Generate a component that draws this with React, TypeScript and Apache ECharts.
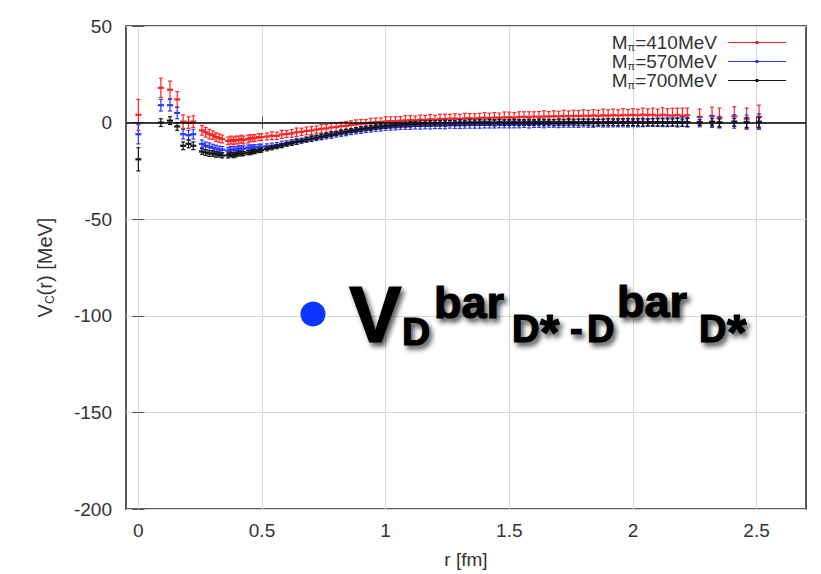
import React, { useEffect, useRef } from "react";
import * as echarts from "echarts";

// Separation r [fm] of the sampled points
const R = [
  0, 0.091, 0.128, 0.157, 0.181, 0.203, 0.222, 0.257, 0.272, 0.287,
  0.301, 0.314, 0.327, 0.339, 0.363, 0.374, 0.385, 0.395, 0.406, 0.416,
  0.425, 0.444, 0.454, 0.463, 0.471, 0.488, 0.497,
  0.52, 0.54, 0.56, 0.58, 0.6, 0.62, 0.64, 0.66, 0.68, 0.7,
  0.72, 0.74, 0.76, 0.78, 0.8, 0.82, 0.84, 0.86, 0.88, 0.9,
  0.92, 0.94, 0.96, 0.98, 1.0, 1.02, 1.04, 1.06, 1.08, 1.1,
  1.12, 1.14, 1.16, 1.18, 1.2, 1.22, 1.24, 1.26, 1.28, 1.3,
  1.32, 1.34, 1.36, 1.38, 1.4, 1.42, 1.44, 1.46, 1.48, 1.5,
  1.52, 1.54, 1.56, 1.58, 1.6, 1.62, 1.64, 1.66, 1.68, 1.7,
  1.72, 1.74, 1.76, 1.78, 1.8, 1.82, 1.84, 1.86, 1.88, 1.9,
  1.92, 1.94, 1.96, 1.98, 2.0, 2.02, 2.04, 2.06, 2.08, 2.1,
  2.12, 2.14, 2.16, 2.18, 2.2, 2.22,
  2.27, 2.32, 2.35, 2.41, 2.46, 2.51,
];

// Mπ = 410 MeV
const V410 = [
  4, 18, 17, 12, 0.5, 0, 0.5, -4, -5, -6,
  -6.5, -7.5, -8, -8.5, -9.5, -9, -9.5, -9, -9, -8.5,
  -9, -8.5, -8, -8, -8, -7.5, -7.5,
  -7.2, -6.8, -6.9, -6.1, -5.9, -5.6, -5.0, -4.8, -4.3, -4.1,
  -3.6, -3.2, -3.0, -2.5, -2.3, -1.8, -1.7, -1.2, -1.0, -0.6,
  -0.4, -0.1, 0.2, 0.3, 0.6, 0.8, 0.7, 1.0, 1.1, 1.3,
  1.2, 1.5, 1.4, 1.7, 1.6, 1.9, 1.8, 2.0, 2.1, 1.9,
  2.2, 2.3, 2.1, 2.4, 2.5, 2.3, 2.6, 2.5, 2.7, 2.8,
  2.6, 2.9, 3.0, 2.8, 3.1, 3.0, 3.2, 3.1, 3.3, 3.2,
  3.4, 3.3, 3.5, 3.4, 3.6, 3.5, 3.7, 3.5, 3.8, 3.6,
  3.9, 3.7, 3.9, 3.8, 4.0, 3.8, 4.1, 3.9, 4.0, 3.7,
  4.1, 3.8, 3.6, 4.0, 3.5, 3.8,
  3.0, 3.5, 2.5, 3.2, 2.0, 3.0,
];
const E410 = [
  8, 5, 4.5, 4, 3.5, 3, 3, 2.5, 2.5, 2.5,
  2.2, 2.2, 2.2, 2, 2, 2, 2, 2, 2, 2,
  2, 2, 1.8, 1.8, 1.8, 1.8, 1.8,
  1.8, 2.0, 1.9, 2.1, 1.8, 2.0, 2.2, 1.9, 2.0, 2.1,
  1.9, 2.2, 2.0, 2.1, 2.3, 2.0, 2.2, 2.1, 2.4, 2.2,
  2.0, 2.3, 2.2, 2.1, 2.4, 2.2, 2.3, 2.1, 2.5, 2.3,
  2.2, 2.4, 2.3, 2.5, 2.2, 2.4, 2.6, 2.3, 2.5, 2.4,
  2.6, 2.3, 2.5, 2.4, 2.7, 2.5, 2.6, 2.4, 2.8, 2.6,
  2.5, 2.7, 2.6, 2.8, 2.5, 2.7, 2.9, 2.6, 2.8, 2.7,
  3.0, 2.7, 2.9, 2.8, 3.1, 2.8, 3.0, 2.9, 3.2, 3.0,
  3.1, 2.9, 3.3, 3.0, 3.2, 3.1, 3.4, 3.2, 3.5, 3.3,
  3.6, 3.4, 3.8, 3.5, 4.0, 3.7,
  4, 4.5, 5, 5, 5.5, 6,
];

// Mπ = 570 MeV
const V570 = [
  -6, 9, 9, 5, -6, -6.5, -6, -11, -12, -12.5,
  -13, -13.5, -14, -14, -14.5, -14, -14, -14, -13.5, -13.5,
  -13.5, -13, -13, -13, -12.8, -12.6, -12.5,
  -12.3, -12.0, -11.6, -11.1, -10.7, -10.2, -9.7, -9.3, -8.8, -8.3,
  -7.9, -7.4, -7.0, -6.5, -6.1, -5.6, -5.2, -4.8, -4.4, -4.0,
  -3.6, -3.3, -3.0, -2.7, -2.5, -2.3, -2.1, -2.0, -1.9, -1.8,
  -1.7, -1.7, -1.6, -1.5, -1.5, -1.4, -1.4, -1.3, -1.3, -1.2,
  -1.2, -1.1, -1.2, -1.0, -1.1, -1.0, -0.9, -1.0, -0.9, -0.8,
  -0.9, -0.8, -0.7, -0.8, -0.7, -0.6, -0.7, -0.6, -0.5, -0.6,
  -0.5, -0.4, -0.5, -0.4, -0.3, -0.4, -0.3, -0.2, -0.3, -0.2,
  -0.2, -0.1, -0.2, -0.1, 0.0, -0.1, 0.1, 0.0, 0.1, 0.2,
  0.1, 0.2, 0.3, 0.1, 0.4, 0.2,
  0.3, 0.5, 0.2, 0.6, 0.4, 0.5,
];
const E570 = [
  5, 3, 3, 3, 2.5, 2.5, 2.5, 2, 2, 2,
  1.8, 1.8, 1.8, 1.6, 1.6, 1.6, 1.5, 1.5, 1.5, 1.5,
  1.5, 1.4, 1.4, 1.4, 1.4, 1.4, 1.4,
  1.3, 1.4, 1.3, 1.5, 1.3, 1.4, 1.5, 1.3, 1.4, 1.5,
  1.4, 1.5, 1.4, 1.6, 1.4, 1.5, 1.6, 1.4, 1.5, 1.6,
  1.5, 1.6, 1.5, 1.7, 1.5, 1.6, 1.7, 1.5, 1.6, 1.7,
  1.6, 1.7, 1.6, 1.8, 1.6, 1.7, 1.8, 1.6, 1.7, 1.8,
  1.7, 1.8, 1.7, 1.9, 1.7, 1.8, 1.9, 1.7, 1.8, 1.9,
  1.8, 1.9, 1.8, 2.0, 1.8, 1.9, 2.0, 1.8, 1.9, 2.0,
  1.9, 2.0, 1.9, 2.1, 1.9, 2.0, 2.1, 1.9, 2.0, 2.1,
  2.0, 2.1, 2.0, 2.2, 2.0, 2.1, 2.2, 2.0, 2.1, 2.2,
  2.2, 2.3, 2.2, 2.4, 2.3, 2.5,
  2.5, 3, 3, 3.5, 3.5, 4,
];

// Mπ = 700 MeV
const V700 = [
  -19, 0, 1, -2, -12, -11, -12, -15, -15.5, -16,
  -16, -16.5, -16.5, -17, -17, -16.5, -17, -16.5, -16, -16,
  -16, -15.5, -15.5, -15, -15, -14.5, -14.3,
  -13.6, -13.0, -12.5, -11.9, -11.2, -10.7, -10.0, -9.5, -8.8, -8.3,
  -7.7, -7.2, -6.6, -6.1, -5.6, -5.1, -4.7, -4.2, -3.8, -3.4,
  -3.0, -2.7, -2.3, -2.0, -1.8, -1.5, -1.3, -1.1, -1.0, -0.8,
  -0.7, -0.6, -0.5, -0.4, -0.4, -0.3, -0.3, -0.2, -0.2, -0.1,
  -0.2, 0.0, -0.1, 0.1, 0.0, 0.1, -0.1, 0.2, 0.0, 0.1,
  0.2, 0.0, 0.1, 0.2, 0.1, 0.3, 0.1, 0.2, 0.0, 0.2,
  0.1, 0.3, 0.2, 0.1, 0.3, 0.2, 0.0, 0.2, 0.1, 0.3,
  0.2, 0.1, 0.3, 0.2, 0.1, 0.2, 0.0, 0.1, 0.2, 0.1,
  0.2, 0.0, 0.1, 0.2, -0.1, 0.1,
  0.0, 0.2, -0.1, 0.1, 0.0, 0.1,
];
const E700 = [
  6, 2, 2, 2, 2, 2, 2, 1.5, 1.5, 1.5,
  1.4, 1.4, 1.3, 1.3, 1.3, 1.2, 1.2, 1.2, 1.2, 1.2,
  1.1, 1.1, 1.1, 1.1, 1.0, 1.0, 1.0,
  1.0, 1.1, 1.0, 1.1, 1.0, 1.1, 1.2, 1.0, 1.1, 1.2,
  1.1, 1.2, 1.1, 1.2, 1.1, 1.2, 1.3, 1.1, 1.2, 1.3,
  1.2, 1.3, 1.2, 1.3, 1.2, 1.3, 1.4, 1.2, 1.3, 1.4,
  1.3, 1.4, 1.3, 1.4, 1.3, 1.4, 1.5, 1.3, 1.4, 1.5,
  1.4, 1.5, 1.4, 1.5, 1.4, 1.5, 1.6, 1.4, 1.5, 1.6,
  1.5, 1.6, 1.5, 1.6, 1.5, 1.6, 1.7, 1.5, 1.6, 1.7,
  1.6, 1.7, 1.6, 1.7, 1.6, 1.7, 1.8, 1.6, 1.7, 1.8,
  1.7, 1.8, 1.7, 1.8, 1.7, 1.8, 1.9, 1.7, 1.8, 1.9,
  1.8, 1.9, 1.8, 2.0, 1.9, 2.0,
  1.5, 2, 2, 2, 2.5, 2.5,
];

const SERIES_NAMES = ["Mπ=410MeV", "Mπ=570MeV", "Mπ=700MeV"];
const SERIES_COLORS = ["#ff2323", "#2b36ff", "#141414"];
const X_TICKS = [0, 0.5, 1, 1.5, 2, 2.5];
const X_MIN = -0.05;
const X_MAX = 2.7;
const Y_MIN = -200;
const Y_MAX = 50;
const Y_STEP = 50;

const FONT = '"Liberation Sans", Arial, Helvetica, sans-serif';
const AXIS_FONT_SIZE = 19;

// Pieces of the bold annotation next to the blue dot: text, left x, baseline y, font size
const TITLE_PIECES: [string, number, number, number][] = [
  ["V", 349, 342, 79],
  ["D", 402, 345, 39],
  ["bar", 434, 318, 45],
  ["D", 512, 342, 38],
  ["*", 540, 350, 50],
  ["-", 570, 342, 38],
  ["D", 587, 342, 38],
  ["bar", 617, 317, 45],
  ["D", 699, 342, 38],
  ["*", 727, 350, 50],
];

// Blurred drop shadow behind the annotation, painted as an SVG image layer
function buildShadowImage(width: number, height: number): string {
  const texts = TITLE_PIECES.map(
    ([t, x, base, size]) =>
      `<text x="${x + 3}" y="${base + 4}" font-size="${size}">${t}</text>`
  ).join("");
  const svg =
    `<svg xmlns="http://www.w3.org/2000/svg" width="${width}" height="${height}">` +
    `<defs><filter id="soft" x="-20%" y="-20%" width="140%" height="140%">` +
    `<feGaussianBlur stdDeviation="2.4"/></filter></defs>` +
    `<g filter="url(#soft)" fill="rgba(0,0,0,0.62)" stroke="rgba(0,0,0,0.62)" stroke-width="1.2" ` +
    `font-family="'Liberation Sans', Arial, sans-serif" font-weight="bold">${texts}</g></svg>`;
  return "data:image/svg+xml;charset=utf-8," + encodeURIComponent(svg);
}

function errorBarSeries(name: string, color: string, vals: number[], errs: number[], z: number) {
  const n = Math.min(R.length, vals.length, errs.length);
  const data = [] as number[][];
  for (let i = 0; i < n; i++) data.push([R[i], vals[i], errs[i]]);
  return {
    type: "custom",
    name,
    z,
    clip: true,
    itemStyle: { color },
    encode: { x: 0, y: 1 },
    data,
    renderItem: (_params: any, api: any) => {
      const x = api.value(0);
      const y = api.value(1);
      const e = api.value(2);
      const c = api.coord([x, y]);
      const hi = api.coord([x, y + e]);
      const lo = api.coord([x, y - e]);
      const thin = { stroke: color, lineWidth: 1.2 };
      return {
        type: "group",
        children: [
          { type: "line", shape: { x1: c[0], y1: hi[1], x2: c[0], y2: lo[1] }, style: thin },
          { type: "line", shape: { x1: c[0] - 2, y1: hi[1], x2: c[0] + 2, y2: hi[1] }, style: thin },
          { type: "line", shape: { x1: c[0] - 2, y1: lo[1], x2: c[0] + 2, y2: lo[1] }, style: thin },
          { type: "line", shape: { x1: c[0] - 3, y1: c[1], x2: c[0] + 3, y2: c[1] }, style: { stroke: color, lineWidth: 2.2 } },
        ],
      };
    },
  };
}

export default function App() {
  const ref = useRef<HTMLDivElement>(null);

  useEffect(() => {
    if (!ref.current) return;
    const chart = echarts.init(ref.current, null, { renderer: "svg" });
    const W = 821;
    const H = 574;

    const titleGraphics = TITLE_PIECES.map(([t, x, base, size]) => ({
      type: "text",
      z: 100,
      style: {
        text: t,
        x,
        y: base - 0.3465 * size,
        align: "left",
        verticalAlign: "middle",
        font: `bold ${size}px ${FONT}`,
        fill: "#000",
        stroke: "#000",
        lineWidth: 1.2,
      },
    }));

    const option = {
      animation: false,
      backgroundColor: "#ffffff",
      textStyle: { fontFamily: FONT },
      grid: {
        left: 126,
        right: 15,
        top: 26,
        bottom: 61,
        show: true,
        borderColor: "#5a5a5a",
        borderWidth: 2,
        backgroundColor: "transparent",
      },
      legend: {
        orient: "vertical",
        right: 30,
        top: 28,
        align: "right",
        itemWidth: 70,
        itemHeight: 3,
        itemGap: 0,
        selectedMode: false,
        data: SERIES_NAMES.map((name) => ({
          name,
          icon: "path://M0,1.5H58V2.5H0Z M27.5,0.5H30.5V3.5H27.5Z",
        })),
        formatter: (name: string) => name.replace("Mπ", "M{s|π}"),
        textStyle: {
          fontFamily: FONT,
          fontSize: AXIS_FONT_SIZE,
          color: "#333",
          lineHeight: 19,
          rich: {
            s: { fontSize: 11, fontFamily: FONT, color: "#333", verticalAlign: "bottom" },
          },
        },
      },
      xAxis: [
        {
          type: "value",
          min: X_MIN,
          max: X_MAX,
          name: "r [fm]",
          nameLocation: "middle",
          nameGap: 41,
          nameTextStyle: { fontFamily: FONT, fontSize: AXIS_FONT_SIZE, color: "#333" },
          axisLine: { show: false },
          axisTick: {
            show: true,
            inside: true,
            length: 6,
            customValues: X_TICKS,
            lineStyle: { color: "#555", width: 1 },
          },
          axisLabel: {
            customValues: X_TICKS,
            margin: 12,
            fontFamily: FONT,
            fontSize: AXIS_FONT_SIZE,
            color: "#333",
          },
          splitLine: { show: true, lineStyle: { color: "#d8d8d8", width: 1 } },
        },
        {
          type: "value",
          position: "top",
          min: X_MIN,
          max: X_MAX,
          axisLine: { show: false },
          axisTick: {
            show: true,
            inside: true,
            length: 6,
            customValues: X_TICKS,
            lineStyle: { color: "#555", width: 1 },
          },
          axisLabel: { show: false },
          splitLine: { show: false },
        },
      ],
      yAxis: [
        {
          type: "value",
          min: Y_MIN,
          max: Y_MAX,
          interval: Y_STEP,
          name: "V{s|C}(r) [MeV]",
          nameLocation: "middle",
          nameRotate: 90,
          nameGap: 70,
          nameTextStyle: {
            fontFamily: FONT,
            fontSize: 20,
            color: "#333",
            lineHeight: 22,
            rich: { s: { fontSize: 12, fontFamily: FONT, color: "#333", verticalAlign: "bottom" } },
          },
          axisLine: { show: false },
          axisTick: { show: true, inside: true, length: 6, lineStyle: { color: "#555", width: 1 } },
          axisLabel: { margin: 14, fontFamily: FONT, fontSize: AXIS_FONT_SIZE, color: "#333" },
          splitLine: { show: true, lineStyle: { color: "#d8d8d8", width: 1 } },
        },
        {
          type: "value",
          position: "right",
          min: Y_MIN,
          max: Y_MAX,
          interval: Y_STEP,
          axisLine: { show: false },
          axisTick: { show: true, inside: true, length: 6, lineStyle: { color: "#555", width: 1 } },
          axisLabel: { show: false },
          splitLine: { show: false },
        },
      ],
      series: [
        {
          type: "line",
          name: "zero",
          data: [],
          z: 1,
          silent: true,
          markLine: {
            silent: true,
            symbol: "none",
            label: { show: false },
            lineStyle: { color: "#000", width: 1.5, type: "solid" },
            data: [{ yAxis: 0 }],
          },
        },
        errorBarSeries(SERIES_NAMES[0], SERIES_COLORS[0], V410, E410, 3),
        errorBarSeries(SERIES_NAMES[1], SERIES_COLORS[1], V570, E570, 4),
        errorBarSeries(SERIES_NAMES[2], SERIES_COLORS[2], V700, E700, 5),
      ],
      graphic: [
        {
          type: "image",
          z: 99,
          silent: true,
          style: { image: buildShadowImage(W, H), x: 0, y: 0, width: W, height: H },
        },
        {
          type: "circle",
          z: 100,
          shape: { cx: 313, cy: 314, r: 12.5 },
          style: { fill: "#0a36ff" },
        },
        ...titleGraphics,
      ],
    };

    chart.setOption(option as any);
    return () => chart.dispose();
  }, []);

  return (
    <div
      ref={ref}
      style={{ position: "fixed", left: 0, top: 0, width: 821, height: 574, background: "#fff" }}
    />
  );
}
